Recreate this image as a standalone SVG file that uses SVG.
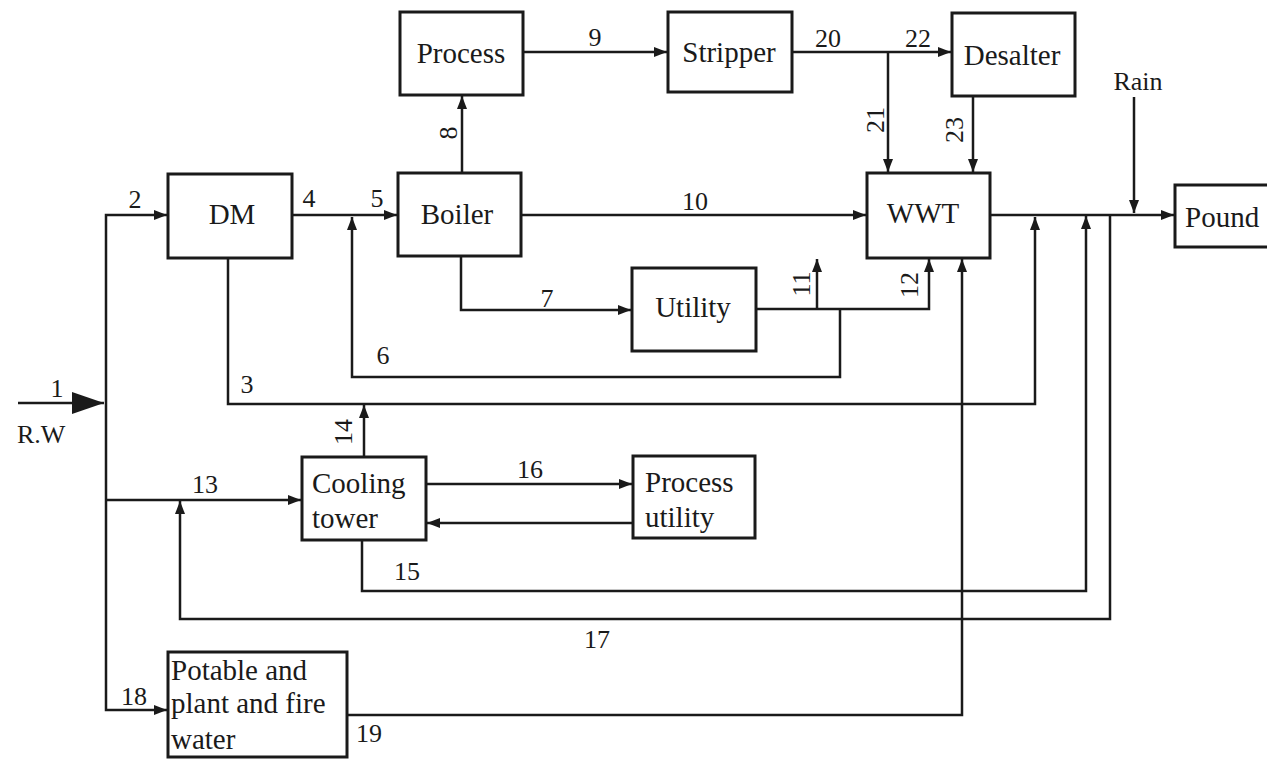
<svg xmlns="http://www.w3.org/2000/svg" width="1267" height="761" viewBox="0 0 1267 761">
<style>
.box{fill:#fff;stroke:#1a1a1a;stroke-width:3}
.ln{fill:none;stroke:#1a1a1a;stroke-width:2.5}
text{font-family:"Liberation Serif","Times New Roman",serif;fill:#1a1a1a}
.lbl{font-size:29px}
.c{text-anchor:middle}
.num{font-size:26px}
</style>
<defs>
<marker id="a" markerUnits="userSpaceOnUse" markerWidth="13" markerHeight="10" refX="13" refY="5" orient="auto"><path d="M0,0 L13,5 L0,10 z" fill="#1a1a1a"/></marker>
<marker id="big" markerUnits="userSpaceOnUse" markerWidth="32" markerHeight="22" refX="32" refY="11" orient="auto"><path d="M0,0 L32,11 L0,22 z" fill="#1a1a1a"/></marker>
</defs>
<rect width="1267" height="761" fill="#fff"/>
<g id="connectors">
<path class="ln" d="M18,403 H104" marker-end="url(#big)"/>
<path class="ln" d="M106,403 V215 H167" marker-end="url(#a)"/>
<path class="ln" d="M106,403 V710 H167" marker-end="url(#a)"/>
<path class="ln" d="M106,500 H301" marker-end="url(#a)"/>
<path class="ln" d="M292,215 H397" marker-end="url(#a)"/>
<path class="ln" d="M840,309 V377 H352 V217" marker-end="url(#a)"/>
<path class="ln" d="M228,258 V404 H1035 V217" marker-end="url(#a)"/>
<path class="ln" d="M462,173 V96" marker-end="url(#a)"/>
<path class="ln" d="M523,52 H667" marker-end="url(#a)"/>
<path class="ln" d="M792,52 H951" marker-end="url(#a)"/>
<path class="ln" d="M888,52 V172" marker-end="url(#a)"/>
<path class="ln" d="M973,96 V172" marker-end="url(#a)"/>
<path class="ln" d="M521,215 H866" marker-end="url(#a)"/>
<path class="ln" d="M461,256 V310 H631" marker-end="url(#a)"/>
<path class="ln" d="M756,309 H929 V259" marker-end="url(#a)"/>
<path class="ln" d="M817,309 V259" marker-end="url(#a)"/>
<path class="ln" d="M1134,97 V213" marker-end="url(#a)"/>
<path class="ln" d="M990,215 H1174" marker-end="url(#a)"/>
<path class="ln" d="M364,457 V405" marker-end="url(#a)"/>
<path class="ln" d="M426,484 H632" marker-end="url(#a)"/>
<path class="ln" d="M633,523 H427" marker-end="url(#a)"/>
<path class="ln" d="M362,540 V591 H1086 V216" marker-end="url(#a)"/>
<path class="ln" d="M1110,215 V619 H180 V501" marker-end="url(#a)"/>
<path class="ln" d="M347,715 H962 V259" marker-end="url(#a)"/>
</g>
<g id="labels">
<text class="num c" x="57" y="397">1</text>
<text x="17" y="443" style="font-size:26px">R.W</text>
<text class="num c" x="135" y="208">2</text>
<text class="num c" x="309" y="207">4</text>
<text class="num c" x="377" y="207">5</text>
<text class="num c" x="247" y="393">3</text>
<text class="num c" x="383" y="364">6</text>
<text class="num c" transform="translate(457,133) rotate(-90)">8</text>
<text class="num c" x="595" y="46">9</text>
<text class="num c" x="828" y="47">20</text>
<text class="num c" x="918" y="47">22</text>
<text class="num c" transform="translate(884,120) rotate(-90)">21</text>
<text class="num c" transform="translate(963,130) rotate(-90)">23</text>
<text class="c" x="1138" y="90" style="font-size:26px">Rain</text>
<text class="num c" x="695" y="210">10</text>
<text class="num c" x="547" y="307">7</text>
<text class="num c" transform="translate(810,284) rotate(-90)">11</text>
<text class="num c" transform="translate(918,285) rotate(-90)">12</text>
<text class="num c" transform="translate(352,432) rotate(-90)">14</text>
<text class="num c" x="205" y="493">13</text>
<text class="num c" x="530" y="478">16</text>
<text class="num c" x="407" y="580">15</text>
<text class="num c" x="597" y="648">17</text>
<text class="num c" x="134" y="705">18</text>
<text class="num c" x="369" y="742">19</text>
</g>
<g id="process"><rect class="box" x="400" y="12" width="123" height="83"/><text class="lbl c" x="461" y="63">Process</text></g>
<g id="stripper"><rect class="box" x="668" y="12" width="124" height="80"/><text class="lbl c" x="729" y="62">Stripper</text></g>
<g id="desalter"><rect class="box" x="952" y="13" width="123" height="83"/><text class="lbl c" x="1012" y="65">Desalter</text></g>
<g id="dm"><rect class="box" x="168" y="174" width="124" height="84"/><text class="lbl c" x="232" y="224">DM</text></g>
<g id="boiler"><rect class="box" x="398" y="173" width="123" height="83"/><text class="lbl c" x="457" y="224">Boiler</text></g>
<g id="wwt"><rect class="box" x="867" y="173" width="123" height="85"/><text class="lbl c" x="923" y="223">WWT</text></g>
<g id="pound"><rect class="box" x="1175" y="185" width="100" height="62"/><text class="lbl" x="1185" y="227">Pound</text></g>
<g id="utility"><rect class="box" x="632" y="268" width="124" height="83"/><text class="lbl c" x="693" y="317">Utility</text></g>
<g id="cooling"><rect class="box" x="302" y="457" width="124" height="83"/><text class="lbl" x="312" y="493">Cooling</text><text class="lbl" x="312" y="528">tower</text></g>
<g id="processutility"><rect class="box" x="633" y="456" width="122" height="82"/><text class="lbl" x="645" y="492">Process</text><text class="lbl" x="645" y="527">utility</text></g>
<g id="potable"><rect class="box" x="168" y="652" width="179" height="105"/><text class="lbl" x="171" y="680">Potable and</text><text class="lbl" x="171" y="713">plant and fire</text><text class="lbl" x="171" y="749">water</text></g>
</svg>
